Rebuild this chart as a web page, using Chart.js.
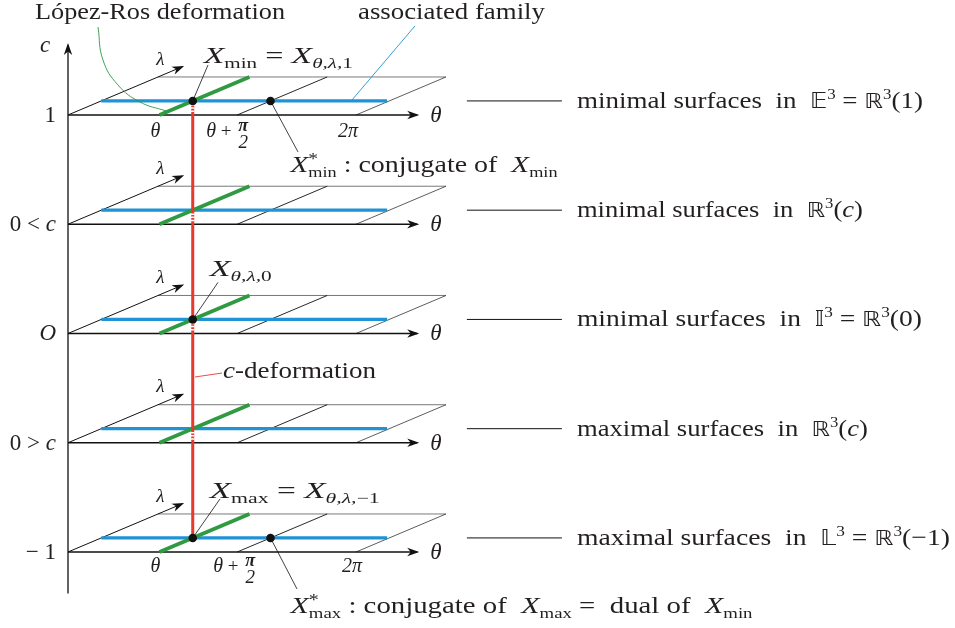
<!DOCTYPE html>
<html><head><meta charset="utf-8">
<script src="https://cdn.jsdelivr.net/npm/chart.js@4"></script>
<style>html,body{margin:0;padding:0;background:#fff}#wrap{width:955px;height:628px;position:relative}</style>
</head><body><div id="wrap"><canvas id="cv"></canvas></div>
<script>
// ---------------- data ----------------
const levelLabels = ['1', '0 < c', 'O', '0 > c', '\u2212 1'];   // c levels, top to bottom
const levelPos = [4, 3, 2, 1, 0];                              // position of each level on the c axis
const surfaceKinds = ['minimal', 'minimal', 'minimal', 'maximal', 'maximal'];
const spaceNames = ['E', 'R', 'I', 'R', 'L'];
const thetaTicks = [1.27, 2.35, 4.0];      // θ, θ+π/2, 2π along the θ axis
const thetaAxisEnd = 4.85;
const blueEnd = 3.97;                       // associated family extent
const blueDepth = 0.37;                     // λ value of the associated family
const lambdaAxisEnd = 1.27;
const planeDepth = 1.0;
const cAxisRange = [-0.38, 4.64];
const dotLevels = [0, 2, 4];               // levels carrying X_min, X_θ,λ,0, X_max
const conjDotLevels = [0, 4];              // levels carrying X*_min, X*_max
const rightConnector = [5.54, 6.86];
const descWidths = [346, 286, 345, 291, 373];
// leader offsets (θ units, c units) from the marked points
const leaderXmin = [0.2125, 0.3295], leaderXminConj = [0.382, -0.467];
const leaderX0 = [0.351, 0.339];
const leaderXmax = [0.379, 0.357], leaderXmaxConj = [0.368, -0.467];
// annotation curves (θ units, c units)
const lopezRosCurveX = [0.417, 0.486, 0.694, 1.0, 1.361];
const lopezRosCurveY = [4.805, 4.503, 4.275, 4.119, 4.037];
const assocLeaderX = [4.819, 3.944], assocLeaderY = [4.815, 4.137];
const cDefLeaderX = [1.764, 2.139], cDefLeaderY = [1.602, 1.638];

// ---------------- projection ----------------
const DX = 1.25, DY = 0.348;   // oblique λ direction
const P = (th, d, k) => ({x: th + d * DX, y: levelPos[k] + d * DY});

const BLUE = '#1f93d3', GREEN = '#2f9a41', RED = '#e63a2c', INK = '#231f20';
const ds = [];
function line(points, style) {
  ds.push(Object.assign({type: 'scatter', data: points, showLine: true, pointRadius: 0, pointHoverRadius: 0,
    fill: false, clip: false, tension: 0, borderColor: '#111', borderWidth: 1}, style || {}));
}
line([{x: 0, y: cAxisRange[0]}, {x: 0, y: cAxisRange[1]}], {borderWidth: 1.3, arrow: true});
levelPos.forEach((lp, k) => {
  line([P(0, planeDepth, k), P(thetaTicks[2], planeDepth, k)], {borderWidth: 0.8, borderColor: '#555'});
  line([P(thetaTicks[2], 0, k), P(thetaTicks[2], planeDepth, k)], {borderWidth: 0.8, borderColor: '#333'});
  line([P(thetaTicks[1], 0, k), P(thetaTicks[1], planeDepth, k)], {borderWidth: 0.9});
  line([P(0, 0, k), P(thetaAxisEnd, 0, k)], {borderWidth: 1.3, arrow: true});
  line([P(0, 0, k), P(0, lambdaAxisEnd, k)], {borderWidth: 1, arrow: true});
  line([P(0, blueDepth, k), P(blueEnd, blueDepth, k)], {borderWidth: 3.3, borderColor: BLUE});
  line([P(thetaTicks[0], 0, k), P(thetaTicks[0], planeDepth, k)], {borderWidth: 3.6, borderColor: GREEN});
  line([{x: rightConnector[0], y: lp + blueDepth * DY}, {x: rightConnector[1], y: lp + blueDepth * DY}], {borderWidth: 1});
});
// c-deformation
line([P(thetaTicks[0], blueDepth, 0), P(thetaTicks[0], blueDepth, 4)], {borderWidth: 3, borderColor: RED});
levelPos.forEach((lp, k) => {
  const a = P(thetaTicks[0], blueDepth, k);
  line([{x: a.x, y: a.y - 0.03}, {x: a.x, y: lp + 0.015}], {borderWidth: 3.6, borderColor: '#fff', borderDash: [1.5, 1.6]});
});
// leaders
const addLeader = (pt, off, col) => line([pt, {x: pt.x + off[0], y: pt.y + off[1]}], {borderWidth: 0.8, borderColor: col || '#111'});
addLeader(P(thetaTicks[0], blueDepth, 0), leaderXmin);
addLeader(P(thetaTicks[1], blueDepth, 0), leaderXminConj);
addLeader(P(thetaTicks[0], blueDepth, 2), leaderX0);
addLeader(P(thetaTicks[0], blueDepth, 4), leaderXmax);
addLeader(P(thetaTicks[1], blueDepth, 4), leaderXmaxConj);
line(lopezRosCurveX.map((x, i) => ({x, y: lopezRosCurveY[i]})), {borderWidth: 0.9, borderColor: GREEN, tension: 0.45});
line(assocLeaderX.map((x, i) => ({x, y: assocLeaderY[i]})), {borderWidth: 0.9, borderColor: BLUE});
line(cDefLeaderX.map((x, i) => ({x, y: cDefLeaderY[i]})), {borderWidth: 0.9, borderColor: RED});
// dots
const dots = dotLevels.map(k => P(thetaTicks[0], blueDepth, k)).concat(conjDotLevels.map(k => P(thetaTicks[1], blueDepth, k)));
ds.push({type: 'scatter', data: dots, showLine: false, pointRadius: 4.3, pointHoverRadius: 4.3, backgroundColor: '#111', borderWidth: 0, clip: false});
ds.forEach((d, i) => d.order = -i);

// ---------------- text ----------------
const SERIF = "'Liberation Serif','Times New Roman',Times,serif";
const DS = "'DejaVu Sans','DejaVu Serif',serif";
const DBL = {E: '\u{1D53C}', R: '\u211D', I: '\u{1D540}', L: '\u{1D543}'};
function R(t, o) { return Object.assign({t, s: 23}, o || {}); }
const it = (t, s) => R(t, {i: true, s: s || 23});
const sub = (t, i) => R(t, {s: 15, dy: 5, i: !!i});
const sup = (t) => R(t, {s: 15, dy: -9});
function drawRuns(ctx, x, y, runs, opt) {
  opt = opt || {};
  ctx.save();
  const items = []; let cx = 0;
  runs.forEach(r => {
    ctx.font = (r.i ? 'italic ' : '') + (r.b ? 'bold ' : '') + r.s + 'px ' + (r.f || SERIF);
    const w = ctx.measureText(r.t).width;
    let sx = cx;
    if (r.stack && items.length) sx = items[items.length - 1].x;
    items.push({r, x: sx, w, font: ctx.font});
    cx = Math.max(cx, sx + w);
  });
  const sc = opt.w ? opt.w / cx : 1;
  let x0 = x;
  if (opt.align === 'right') x0 = x - cx * sc;
  if (opt.align === 'center') x0 = x - cx * sc / 2;
  ctx.translate(x0, y); ctx.scale(sc, 1);
  ctx.fillStyle = opt.color || INK; ctx.textBaseline = 'alphabetic'; ctx.textAlign = 'left';
  items.forEach(o => { ctx.font = o.font; ctx.fillText(o.r.t, o.x, o.r.dy || 0); });
  ctx.restore();
}
const textPlugin = {
  id: 'texts',
  afterDatasetsDraw(chart) {
    const ctx = chart.ctx, xs = chart.scales.x, ys = chart.scales.y;
    const px = p => [xs.getPixelForValue(p.x), ys.getPixelForValue(p.y)];
    // arrowheads
    chart.data.datasets.forEach((d, i) => {
      if (!d.arrow) return;
      const pts = chart.getDatasetMeta(i).data;
      const a = pts[pts.length - 2], b = pts[pts.length - 1];
      ctx.save(); ctx.translate(b.x, b.y); ctx.rotate(Math.atan2(b.y - a.y, b.x - a.x));
      ctx.beginPath(); ctx.moveTo(2, 0); ctx.lineTo(-10, -4.2); ctx.lineTo(-6.5, 0); ctx.lineTo(-10, 4.2); ctx.closePath();
      ctx.fillStyle = '#111'; ctx.fill(); ctx.restore();
    });
    // top labels
    let [ax, ay] = px({x: lopezRosCurveX[0], y: lopezRosCurveY[0]});
    drawRuns(ctx, ax - 63, ay - 8, [R('L\u00f3pez-Ros deformation', {s: 24})], {w: 250});
    [ax, ay] = px({x: assocLeaderX[0], y: assocLeaderY[0]});
    drawRuns(ctx, ax - 57, ay - 7, [R('associated family', {s: 24})], {w: 187});
    [ax, ay] = px({x: 0, y: cAxisRange[1]});
    drawRuns(ctx, ax - 28, ay + 7, [it('c')]);
    levelPos.forEach((lp, k) => {
      let [x0, y0] = px(P(0, 0, k));
      const lab = levelLabels[k];
      let runs;
      if (lab === '1') runs = [R('1')];
      else if (lab === 'O') runs = [it('O')];
      else if (lab.indexOf('c') >= 0) runs = [R(lab.slice(0, 4)), it('c')];
      else runs = [R(lab)];
      drawRuns(ctx, x0 - 12, y0 + 7, runs, {align: 'right'});
      let [lx, ly] = px(P(0, lambdaAxisEnd, k));
      drawRuns(ctx, lx - 26, ly - 2, [it('\u03bb', 19)]);
      let [tx, ty] = px(P(thetaAxisEnd, 0, k));
      drawRuns(ctx, tx + 13, ty + 7, [it('\u03b8')]);
      // right description
      let [rx, ry] = px({x: rightConnector[1], y: lp + blueDepth * DY});
      const sp = DBL[spaceNames[k]];
      let desc = [R(surfaceKinds[k] + ' surfaces  in  ', {s: 24})];
      const dbl = (c) => R(c, {f: DS, s: 21});
      const eq = (v) => [dbl(sp), sup('3'), R(' = ', {s: 24}), dbl(DBL.R), sup('3'), R('(' + v + ')', {s: 24})];
      if (k === 0) desc = desc.concat(eq('1'));
      else if (k === 2) desc = desc.concat(eq('0'));
      else if (k === 4) desc = desc.concat(eq('\u22121'));
      else desc = desc.concat([dbl(DBL.R), sup('3'), R('(', {s: 24}), it('c', 24), R(')', {s: 24})]);
      drawRuns(ctx, rx + 15, ry + 7, desc, {w: descWidths[k]});
    });
    // tick labels under first and last planes
    [[0, 22, [-9, -31, -18]], [4, 20, [-9, -24, -14]]].forEach(([k, dy, offs]) => {
      let [x1, y1] = px(P(thetaTicks[0], 0, k));
      drawRuns(ctx, x1 + offs[0], y1 + dy, [it('\u03b8', 20)]);
      let [x2, y2] = px(P(thetaTicks[1], 0, k));
      drawRuns(ctx, x2 + offs[1], y2 + dy, [it('\u03b8', 20), R(' + ', {s: 19})]);
      const fx = x2 + offs[1] + 31;
      drawRuns(ctx, fx + 6, y2 + dy - 6, [R('\u03c0', {s: 18, b: true, i: true})], {align: 'center'});
      drawRuns(ctx, fx + 6, y2 + dy + 11, [it('2', 19)], {align: 'center'});
      let [x3, y3] = px(P(thetaTicks[2], 0, k));
      drawRuns(ctx, x3 + offs[2], y3 + dy, [it('2\u03c0', 20)]);
    });
    // point labels
    let [dx, dy] = px(P(thetaTicks[0], blueDepth, 0));
    drawRuns(ctx, dx + 11, dy - 38, [it('X', 24), sub('min'), R(' = '), it('X', 24), sub('\u03b8,\u03bb,', true), R('1', {s: 15, dy: 5})], {w: 149});
    [dx, dy] = px(P(thetaTicks[1], blueDepth, 0));
    drawRuns(ctx, dx + 20, dy + 71, [it('X', 24), R('*', {s: 16, dy: -8}), R('min', {s: 15, dy: 5, stack: true}), R(' : conjugate of  '), it('X', 24), sub('min')], {w: 267});
    [dx, dy] = px(P(thetaTicks[0], blueDepth, 2));
    drawRuns(ctx, dx + 17, dy - 43, [it('X', 24), sub('\u03b8,\u03bb,', true), R('0', {s: 15, dy: 5})], {w: 62});
    [dx, dy] = px(P(thetaTicks[0], blueDepth, 4));
    drawRuns(ctx, dx + 17, dy - 40, [it('X', 24), sub('max'), R(' = '), it('X', 24), sub('\u03b8,\u03bb,', true), R('\u22121', {s: 15, dy: 5})], {w: 170});
    [dx, dy] = px(P(thetaTicks[1], blueDepth, 4));
    drawRuns(ctx, dx + 20, dy + 75, [it('X', 24), R('*', {s: 16, dy: -8}), R('max', {s: 15, dy: 5, stack: true}), R(' : conjugate of  '), it('X', 24), sub('max'), R(' =  dual of  '), it('X', 24), sub('min')], {w: 462});
    [dx, dy] = px({x: cDefLeaderX[1], y: cDefLeaderY[1]});
    drawRuns(ctx, dx + 1, dy + 5, [it('c'), R('-deformation')], {w: 153});
  }
};

new Chart(document.getElementById('cv'), {
  type: 'scatter',
  data: {datasets: ds},
  options: {
    responsive: true, maintainAspectRatio: false, animation: false, events: [],
    layout: {padding: 0, autoPadding: false},
    plugins: {legend: {display: false}, tooltip: {enabled: false}},
    scales: {
      x: {type: 'linear', display: false, min: -0.9444, max: 12.3194},
      y: {type: 'linear', display: false, min: -0.6957, max: 5.0526}
    }
  },
  plugins: [textPlugin]
});
</script>
</body></html>
